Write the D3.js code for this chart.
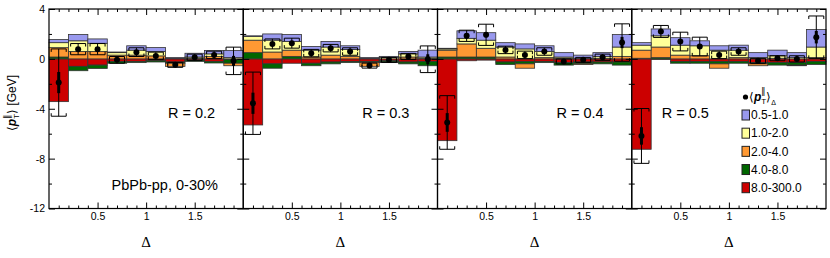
<!DOCTYPE html>
<html><head><meta charset="utf-8">
<script src="https://cdn.jsdelivr.net/npm/d3@7"></script>
<style>
body{margin:0;background:#fff}
svg{display:block}
text{font-family:"Liberation Sans",Arial,Helvetica,sans-serif;fill:#000}
</style>
</head><body>
<svg id="c" width="830" height="258"></svg>
<script>
// ---------- data ----------
const binCenters = [0.1, 0.3, 0.5, 0.7, 0.9, 1.1, 1.3, 1.5, 1.7, 1.9];
const binWidth = 0.2;
const ptKeys = ["8.0-300.0", "4.0-8.0", "2.0-4.0", "1.0-2.0", "0.5-1.0"]; // stacking order (bottom first)
const legendOrder = ["0.5-1.0", "1.0-2.0", "2.0-4.0", "4.0-8.0", "8.0-300.0"];
const ptColors = {"0.5-1.0": "#9999ee", "1.0-2.0": "#ffff99", "2.0-4.0": "#ff9933", "4.0-8.0": "#006600", "8.0-300.0": "#cc0000"};
const panelLabels = ["R = 0.2", "R = 0.3", "R = 0.4", "R = 0.5"];
const xTickValues = [0.5, 1, 1.5];
const xTickLabels = ["0.5", "1", "1.5"];
const yTickValues = [4, 0, -4, -8, -12];
const yTickLabels = ["4", "0", "-4", "-8", "-12"];

// R = 0.2
const r02_pt05 = [0.25, 0.5, 0.35, 0.05, 0.35, 0.32, 0.05, 0.3, 0.27, 0.57];
const r02_pt1  = [0.4, 0.85, 0.65, 0.2, 0.4, 0.35, 0.05, 0.1, 0.2, 0.1];
const r02_pt2  = [0.75, 0.6, 0.6, 0.3, 0.3, 0.24, -0.25, 0.05, 0.2, -0.2];
const r02_pt4  = [0.15, -0.35, -0.27, -0.15, -0.1, -0.1, -0.1, -0.1, -0.13, -0.3];
const r02_pt8  = [-3.43, -0.6, -0.5, -0.2, -0.2, -0.15, -0.25, -0.1, -0.2, -0.05];
const r02_mean = [-1.9, 0.78, 0.78, -0.08, 0.54, 0.24, -0.48, 0.13, 0.32, -0.16];
const r02_stat = [0.85, 0.15, 0.15, 0.12, 0.12, 0.12, 0.1, 0.1, 0.12, 0.4];
const r02_sys  = [2.7, 0.45, 0.45, 0.27, 0.35, 0.3, 0.2, 0.25, 0.3, 1.1];

// R = 0.3
const r03_pt05 = [0.05, 0.5, 0.55, 0.3, 0.45, 0.3, 0.05, 0.1, 0.2, 0.55];
const r03_pt1  = [0.3, 0.95, 0.7, 0.55, 0.65, 0.55, 0.05, 0.1, 0.25, 0.1];
const r03_pt2  = [1.0, 0.55, 0.5, 0.15, 0.3, 0.2, -0.3, -0.05, 0.15, 0.05];
const r03_pt4  = [0.5, -0.35, 0.2, -0.2, -0.15, -0.1, -0.1, -0.1, -0.15, -0.35];
const r03_pt8  = [-5.3, -0.4, -0.35, -0.35, -0.25, -0.2, -0.2, -0.15, -0.25, -0.2];
const r03_mean = [-3.56, 1.2, 1.26, 0.46, 0.86, 0.59, -0.54, -0.08, 0.19, -0.03];
const r03_stat = [0.85, 0.15, 0.15, 0.12, 0.12, 0.12, 0.1, 0.1, 0.12, 0.4];
const r03_sys  = [2.5, 0.4, 0.4, 0.3, 0.3, 0.3, 0.2, 0.2, 0.25, 1.07];

// R = 0.4
const r04_pt05 = [0.05, 0.6, 0.6, 0.35, 0.4, 0.45, 0.35, 0.25, 0.3, 1.0];
const r04_pt1  = [0.1, 0.45, 0.65, 0.8, 0.8, 0.5, 0.1, 0.05, 0.15, 0.75];
const r04_pt2  = [0.55, 1.05, 0.7, 0.15, -0.35, 0.1, 0.05, -0.05, 0.05, 0.2];
const r04_pt4  = [0.15, 0.15, 0.15, -0.2, -0.2, -0.1, -0.2, -0.15, -0.15, -0.25];
const r04_pt8  = [-6.56, -0.15, -0.1, -0.25, -0.2, -0.2, -0.3, -0.25, -0.25, -0.25];
const r04_mean = [-5.1, 1.85, 1.93, 0.72, 0.32, 0.59, -0.21, -0.08, 0.13, 1.31];
const r04_stat = [0.75, 0.2, 0.2, 0.15, 0.15, 0.12, 0.1, 0.1, 0.12, 0.45];
const r04_sys  = [2.15, 0.45, 0.85, 0.3, 0.3, 0.3, 0.2, 0.2, 0.25, 1.5];

// R = 0.5
const r05_pt05 = [0.2, 0.55, 0.6, 0.4, 0.35, 0.4, 0.4, 0.45, 0.4, 1.4];
const r05_pt1  = [0.4, 0.9, 0.8, 0.8, 0.7, 0.6, 0.1, 0.2, 0.1, 0.85];
const r05_pt2  = [0.65, 0.85, 0.3, 0.25, -0.35, 0.1, -0.15, 0.05, -0.05, 0.1];
const r05_pt4  = [0.05, 0.1, -0.15, -0.15, -0.2, -0.15, -0.1, -0.2, -0.2, -0.25];
const r05_pt8  = [-7.25, -0.05, -0.2, -0.2, -0.2, -0.2, -0.3, -0.3, -0.3, -0.2];
const r05_mean = [-6.18, 2.2, 1.39, 0.99, 0.32, 0.59, -0.16, 0.05, 0.0, 1.74];
const r05_stat = [0.7, 0.2, 0.2, 0.15, 0.15, 0.12, 0.12, 0.12, 0.12, 0.5];
const r05_sys  = [2.2, 0.48, 0.75, 0.75, 0.3, 0.3, 0.2, 0.2, 0.25, 1.7];

const panels = [
  {label: panelLabels[0], comps: [r02_pt8, r02_pt4, r02_pt2, r02_pt1, r02_pt05], mean: r02_mean, stat: r02_stat, sys: r02_sys},
  {label: panelLabels[1], comps: [r03_pt8, r03_pt4, r03_pt2, r03_pt1, r03_pt05], mean: r03_mean, stat: r03_stat, sys: r03_sys},
  {label: panelLabels[2], comps: [r04_pt8, r04_pt4, r04_pt2, r04_pt1, r04_pt05], mean: r04_mean, stat: r04_stat, sys: r04_sys},
  {label: panelLabels[3], comps: [r05_pt8, r05_pt4, r05_pt2, r05_pt1, r05_pt05], mean: r05_mean, stat: r05_stat, sys: r05_sys}
];

// ---------- layout ----------
const svg = d3.select("#c");
const plotTop = 9, plotBottom = 208.5;
const panelScale = d3.scaleLinear().domain([0, 4]).range([49, 826]);
const y = d3.scaleLinear().domain([-12, 4]).range([plotBottom, plotTop]);

const stack = d3.stack().keys(ptKeys).offset(d3.stackOffsetDiverging);

panels.forEach((p, pi) => {
  const x0 = panelScale(pi), x1 = panelScale(pi + 1);
  const x = d3.scaleLinear().domain([0, 2]).range([x0, x1]);
  const g = svg.append("g");

  const rows = binCenters.map((c, i) => {
    const r = {c};
    ptKeys.forEach((k, ki) => r[k] = p.comps[ki][i]);
    return r;
  });
  const series = stack(rows);

  // stacked histogram
  series.forEach(s => {
    g.append("g").selectAll("rect").data(s.filter(d => Math.abs(d[1] - d[0]) > 1e-9)).join("rect")
      .attr("x", d => x(d.data.c - binWidth / 2))
      .attr("width", d => x(d.data.c + binWidth / 2) - x(d.data.c - binWidth / 2))
      .attr("y", d => y(Math.max(d[0], d[1])))
      .attr("height", d => Math.abs(y(d[0]) - y(d[1])))
      .attr("fill", ptColors[s.key])
      .attr("stroke", "#333").attr("stroke-width", 0.8);
  });

  // points with errors
  const pts = binCenters.map((c, i) => ({c, m: p.mean[i], st: p.stat[i], sy: p.sys[i]}));
  const pg = g.append("g");
  pg.selectAll("line.thin").data(pts).join("line").attr("class", "thin")
    .attr("x1", d => x(d.c)).attr("x2", d => x(d.c))
    .attr("y1", d => y(d.m + d.sy)).attr("y2", d => y(d.m - d.sy))
    .attr("stroke", "#000").attr("stroke-width", 1);
  pg.selectAll("line.thick").data(pts).join("line").attr("class", "thick")
    .attr("x1", d => x(d.c)).attr("x2", d => x(d.c))
    .attr("y1", d => y(d.m + d.st)).attr("y2", d => y(d.m - d.st))
    .attr("stroke", "#000").attr("stroke-width", 3);
  const bw = 7.5, bt = 3;
  pg.selectAll("path.bup").data(pts).join("path").attr("class", "bup")
    .attr("d", d => { const yy = y(d.m + d.sy), xc = x(d.c); return `M${xc - bw},${yy + bt}V${yy}H${xc + bw}V${yy + bt}`; })
    .attr("fill", "none").attr("stroke", "#000").attr("stroke-width", 1);
  pg.selectAll("path.bdn").data(pts).join("path").attr("class", "bdn")
    .attr("d", d => { const yy = y(d.m - d.sy), xc = x(d.c); return `M${xc - bw},${yy - bt}V${yy}H${xc + bw}V${yy - bt}`; })
    .attr("fill", "none").attr("stroke", "#000").attr("stroke-width", 1);
  pg.selectAll("circle").data(pts).join("circle")
    .attr("cx", d => x(d.c)).attr("cy", d => y(d.m)).attr("r", 3).attr("fill", "#000");

  // axes ticks
  const tickStyle = sel => { sel.select(".domain").remove(); sel.selectAll("line").attr("stroke", "#000").attr("stroke-width", 1); };
  const minorX = d3.range(1, 20).map(v => v / 10).filter(v => ![0.5, 1, 1.5].includes(v));
  g.append("g").attr("transform", `translate(0,${plotBottom})`)
    .call(d3.axisBottom(x).tickValues(xTickValues).tickSize(-6).tickPadding(4).tickFormat((d, i) => xTickLabels[i]))
    .call(tickStyle)
    .call(s => s.selectAll("text").attr("font-size", 10.5).attr("font-family", "Liberation Sans, Arial, sans-serif"));
  g.append("g").attr("transform", `translate(0,${plotBottom})`)
    .call(d3.axisBottom(x).tickValues(minorX).tickSize(-3).tickFormat("")).call(tickStyle);
  g.append("g").attr("transform", `translate(0,${plotTop})`)
    .call(d3.axisTop(x).tickValues(xTickValues).tickSize(-6).tickFormat("")).call(tickStyle);
  g.append("g").attr("transform", `translate(0,${plotTop})`)
    .call(d3.axisTop(x).tickValues(minorX).tickSize(-3).tickFormat("")).call(tickStyle);

  const minorY = [2, -2, -6, -10];
  g.append("g").attr("transform", `translate(${x0},0)`)
    .call(d3.axisLeft(y).tickValues(yTickValues).tickSize(-6).tickPadding(4).tickFormat((d, i) => pi === 0 ? yTickLabels[i] : ""))
    .call(tickStyle)
    .call(s => s.selectAll("text").attr("font-size", 10.5).attr("font-family", "Liberation Sans, Arial, sans-serif"));
  g.append("g").attr("transform", `translate(${x0},0)`)
    .call(d3.axisLeft(y).tickValues(minorY).tickSize(-3).tickFormat("")).call(tickStyle);
  g.append("g").attr("transform", `translate(${x1},0)`)
    .call(d3.axisRight(y).tickValues(yTickValues).tickSize(-6).tickFormat("")).call(tickStyle);
  g.append("g").attr("transform", `translate(${x1},0)`)
    .call(d3.axisRight(y).tickValues(minorY).tickSize(-3).tickFormat("")).call(tickStyle);

  // frame
  g.append("rect").attr("x", x0).attr("y", plotTop).attr("width", x1 - x0).attr("height", plotBottom - plotTop)
    .attr("fill", "none").attr("stroke", "#000").attr("stroke-width", 1.2);

  // panel label
  g.append("text").attr("x", pi === 3 ? x0 + 30 : x0 + 119).attr("y", 118)
    .attr("font-size", 14.5).text(p.label);

  // x title
  g.append("text").attr("x", (x0 + x1) / 2).attr("y", 247).attr("text-anchor", "middle")
    .attr("font-family", "Liberation Serif, Times New Roman, serif").style("font-family", "'Liberation Serif', serif")
    .attr("font-size", 15).text("Δ");
});

// system label
svg.append("text").attr("x", 111.5).attr("y", 190).attr("font-size", 14.5).text("PbPb-pp, 0-30%");

// y title
const yt = svg.append("text").attr("transform", "translate(16,103) rotate(-90)").attr("text-anchor", "middle").attr("font-size", 12);
yt.append("tspan").text("⟨");
yt.append("tspan").attr("font-weight", "bold").attr("font-style", "italic").text("p");
yt.append("tspan").attr("font-size", 8).attr("dy", 3).text("T");
yt.append("tspan").attr("font-size", 9).attr("dx", -5).attr("dy", -9).text("∥");
yt.append("tspan").attr("dy", 6).text("⟩ [GeV]");

// legend
const lg = svg.append("g");
lg.append("circle").attr("cx", 745.5).attr("cy", 97).attr("r", 2.6).attr("fill", "#000");
const lh = lg.append("text").attr("x", 749).attr("y", 101).attr("font-size", 12);
lh.append("tspan").text("⟨");
lh.append("tspan").attr("font-weight", "bold").attr("font-style", "italic").text("p");
lh.append("tspan").attr("font-size", 8).attr("dy", 3).text("T");
lh.append("tspan").attr("font-size", 9).attr("dx", -5).attr("dy", -10).text("∥");
lh.append("tspan").attr("dy", 7).text("⟩");
lh.append("tspan").attr("font-size", 7).attr("dy", 4).text("Δ");

const legendY = d3.scalePoint().domain(legendOrder).range([115, 187.7]);
legendOrder.forEach(k => {
  lg.append("rect").attr("x", 742).attr("y", legendY(k) - 5).attr("width", 7.5).attr("height", 10)
    .attr("fill", ptColors[k]).attr("stroke", "#222").attr("stroke-width", 1);
  lg.append("text").attr("x", 751).attr("y", legendY(k) + 4.3).attr("font-size", 12).text(k);
});
</script>
</body></html>
